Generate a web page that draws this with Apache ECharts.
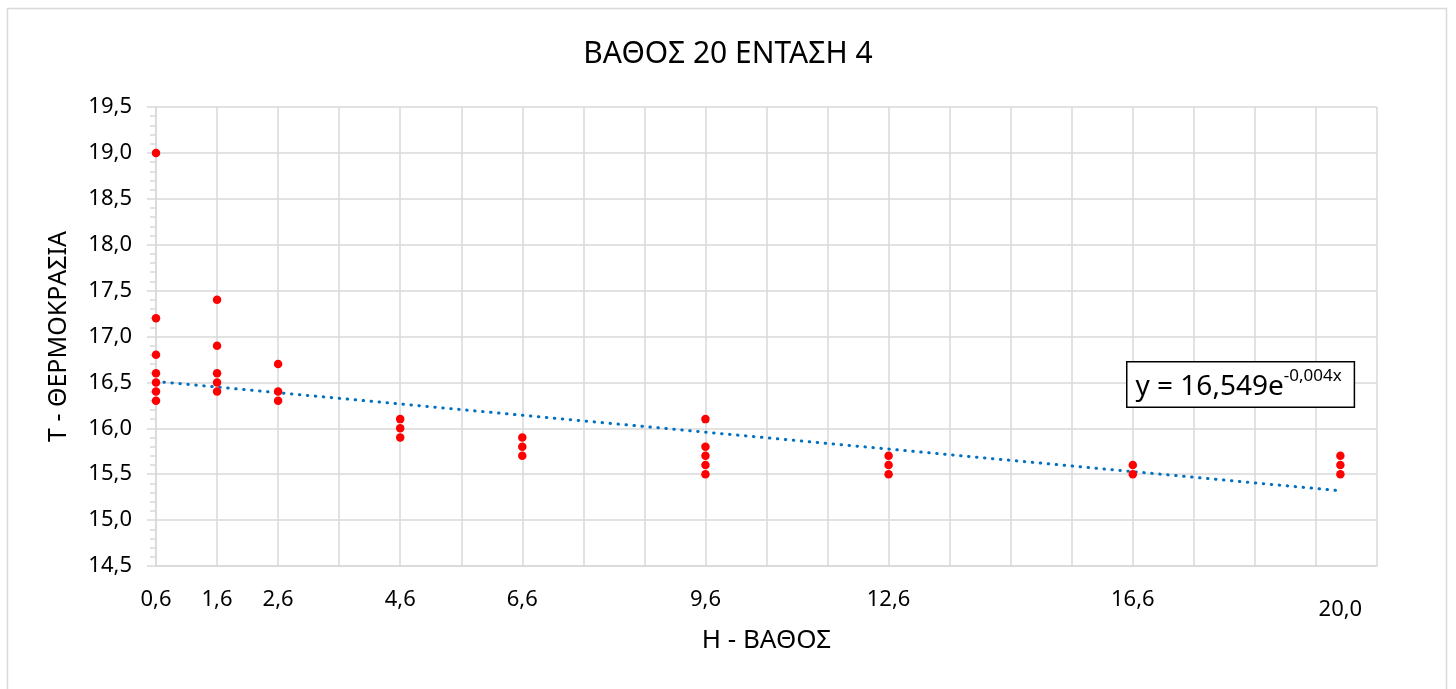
<!DOCTYPE html>
<html>
<head>
<meta charset="utf-8">
<script src="https://cdn.jsdelivr.net/npm/echarts@6/dist/echarts.min.js"></script>
<style>
  html, body { margin: 0; padding: 0; background: #fff; }
  #main { width: 1456px; height: 689px; }
</style>
</head>
<body>
<div id="main"></div>
<script>
// depth (x) and the temperature readings at each depth
const depths = [0.6, 1.6, 2.6, 4.6, 6.6, 9.6, 12.6, 16.6, 20.0];
const temps = [
    [19.0, 17.2, 16.8, 16.6, 16.5, 16.4, 16.3],
    [17.4, 16.9, 16.6, 16.5, 16.4],
    [16.7, 16.4, 16.3],
    [16.1, 16.0, 15.9],
    [15.9, 15.8, 15.7],
    [16.1, 15.8, 15.7, 15.6, 15.5],
    [15.7, 15.6, 15.5],
    [15.6, 15.5],
    [15.7, 15.6, 15.5]
];
const depthLabels = [0.6, 1.6, 2.6, 4.6, 6.6, 9.6, 12.6, 16.6, 20.0];
// Excel exponential trendline, y = a * e^(b x)  (b)
const trendA = 16.549;
const trendB = -0.00386;
const titleText = 'ΒΑΘΟΣ 20 ΕΝΤΑΣΗ 4';
const xName = 'Η - ΒΑΘΟΣ';
const yName = 'Τ - ΘΕΡΜΟΚΡΑΣΙΑ';
const eqMain = 'y = 16,549e';
const eqExp = '-0,004x';

const FONT = 'Noto Sans';

// scatter points
const points = [];
depths.forEach((d, i) => temps[i].forEach(t => points.push([d, t])));

const xMin = depths[0], xMax = depths[depths.length - 1];
const trend = [[xMin, trendA * Math.exp(trendB * xMin)], [xMax, trendA * Math.exp(trendB * xMax)]];

const fmt = v => v.toFixed(1).replace('.', ',');

var chart = echarts.init(document.getElementById('main'));
var option = {
    animation: false,
    textStyle: { fontFamily: FONT },
    title: {
        text: titleText,
        left: 'center',
        top: 34,
        textStyle: { fontFamily: FONT, fontSize: 30, fontWeight: 'normal', color: '#000' }
    },
    grid: { left: 156, right: 79, top: 107, bottom: 123 },
    xAxis: [{
        type: 'value',
        min: 0.6,
        max: 20.6,
        name: xName,
        nameLocation: 'middle',
        nameGap: 62,
        nameTextStyle: { fontSize: 26, color: '#000' },
        axisLine: { show: true, lineStyle: { color: '#d9d9d9', width: 1.5 } },
        axisTick: { show: false },
        splitLine: { show: false },
        axisLabel: {
            customValues: depthLabels,
            margin: 23,
            fontSize: 22,
            color: '#000',
            formatter: v => v === 20 ? '{d|' + fmt(v) + '}' : fmt(v),
            rich: { d: { fontSize: 22, color: '#000', padding: [10, 0, 0, 0] } }
        }
    }, {
        // grid lines every 1 m starting at the first depth
        type: 'value',
        min: 0,
        max: 20,
        interval: 1,
        position: 'bottom',
        axisLine: { show: false },
        axisTick: { show: false },
        axisLabel: { show: false },
        splitLine: { show: true, lineStyle: { color: '#d9d9d9', width: 1.5 } }
    }],
    yAxis: {
        type: 'value',
        min: 14.5,
        max: 19.5,
        interval: 0.5,
        name: yName,
        nameLocation: 'middle',
        nameGap: 85,
        nameTextStyle: { fontSize: 25, color: '#000' },
        axisLine: { show: true, lineStyle: { color: '#d9d9d9', width: 1.5 } },
        axisTick: { show: true, length: 9, lineStyle: { color: '#d9d9d9', width: 1.5 } },
        minorTick: { show: true, splitNumber: 5, length: 6, lineStyle: { color: '#d9d9d9', width: 1.5 } },
        splitLine: { show: true, lineStyle: { color: '#d9d9d9', width: 1.5 } },
        axisLabel: { margin: 24, fontSize: 22, color: '#000', formatter: v => fmt(v) }
    },
    series: [{
        type: 'scatter',
        data: points,
        symbolSize: 8.5,
        itemStyle: { color: '#ff0000', opacity: 1 },
        z: 3
    }, {
        type: 'line',
        data: trend,
        symbol: 'none',
        lineStyle: { color: '#0070c0', width: 3, type: [0.5, 7.5], cap: 'round' },
        z: 2
    }],
    graphic: [{
        type: 'rect',
        shape: { x: 7.5, y: 8.5, width: 1439, height: 700 },
        style: { fill: 'none', stroke: '#d9d9d9', lineWidth: 1.5 },
        silent: true
    }, {
        type: 'text',
        left: 1126,
        top: 361,
        z: 10,
        style: {
            text: '{m|' + eqMain + '}{s|' + eqExp + '}',
            backgroundColor: '#fff',
            borderColor: '#000',
            borderWidth: 1.5,
            padding: [5, 12, 5, 8],
            rich: {
                m: { fontFamily: FONT, fontSize: 28, color: '#000', verticalAlign: 'bottom' },
                s: { fontFamily: FONT, fontSize: 17, color: '#000', verticalAlign: 'top', padding: [0, 0, 17, 0] }
            }
        }
    }]
};
chart.setOption(option);
</script>
</body>
</html>
